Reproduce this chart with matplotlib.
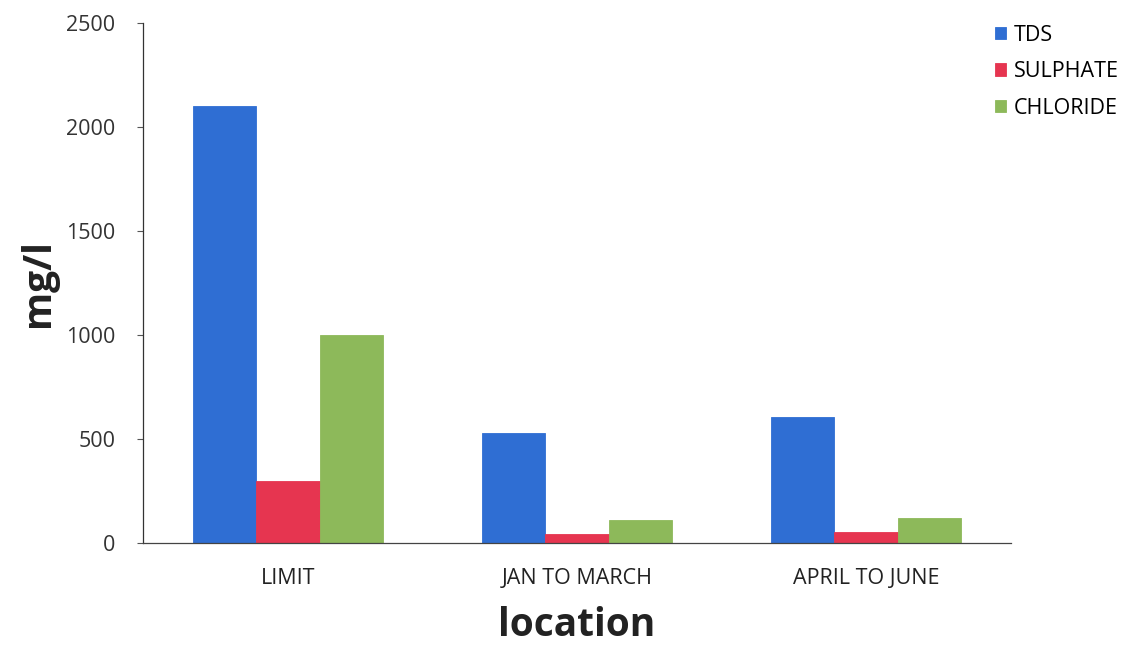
import numpy as np
import matplotlib
matplotlib.use("Agg")
import matplotlib.pyplot as plt

# -------------------------
# Data (mg/l)
# -------------------------
locations = ["LIMIT", "JAN TO MARCH", "APRIL TO JUNE"]
series_names = ["TDS", "SULPHATE", "CHLORIDE"]
tds = [2100, 530, 605]
sulphate = [300, 45, 55]
chloride = [1000, 110, 120]
series_colors = ["#2F6ED3", "#E63550", "#8DB95A"]
y_ticks = [0, 500, 1000, 1500, 2000, 2500]

plt.rcParams["font.family"] = ["Open Sans", "DejaVu Sans"]

fig = plt.figure(figsize=(11.38, 6.48), dpi=100)
ax = fig.add_axes([0.126, 0.162, 0.762, 0.803])

x = np.arange(len(locations))
bar_w = 0.22
for i, (name, vals, col) in enumerate(zip(series_names, [tds, sulphate, chloride], series_colors)):
    ax.bar(x + (i - 1) * bar_w, vals, width=bar_w, color=col, label=name,
           edgecolor=col, linewidth=0.6)

ax.set_xlim(-0.5, len(locations) - 0.5)
ax.set_ylim(0, 2500)
ax.set_yticks(y_ticks)
ax.set_yticklabels([str(v) for v in y_ticks], fontsize=15.5, color="#333333")
ax.set_xticks(x)
ax.set_xticklabels(locations, fontsize=15.5, color="#222222")
ax.tick_params(axis="x", length=0, pad=18)
ax.tick_params(axis="y", length=4, width=0.8, direction="out", pad=16, color="#555555")

for side in ["top", "right"]:
    ax.spines[side].set_visible(False)
ax.spines["left"].set_color("#333333")
ax.spines["bottom"].set_color("#444444")
ax.spines["left"].set_linewidth(0.9)
ax.spines["bottom"].set_linewidth(0.9)

ax.set_xlabel("location", fontsize=28, fontweight="bold", color="#222222", labelpad=12)
ax.set_ylabel("mg/l", fontsize=28, fontweight="bold", color="#222222", labelpad=6)

ax.legend(loc="upper left", bbox_to_anchor=(0.874, 0.962), bbox_transform=fig.transFigure,
          frameon=False, fontsize=15.5, handlelength=0.55, handleheight=0.55,
          handletextpad=0.35, labelspacing=0.72, borderaxespad=0.0, borderpad=0.0)

fig.savefig("out.png", dpi=100, facecolor="white")
